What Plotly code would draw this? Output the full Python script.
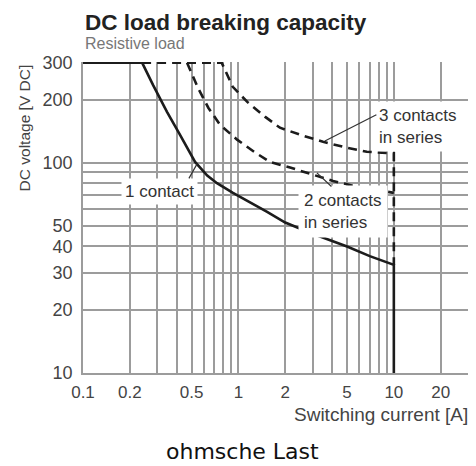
import math
import plotly.graph_objects as go

# --- data ---
I_one = [0.1, 0.24, 0.282, 0.347, 0.421, 0.526, 0.63, 0.728, 0.922, 1.24, 1.53, 2.0, 3.0, 5.0, 7.0, 10.0, 10.0]
V_one = [300, 300, 235, 175, 136, 101, 87, 80, 71.9, 64, 58.5, 52, 46, 40, 36, 32.7, 10]

I_two = [0.24, 0.467, 0.55, 0.64, 0.76, 0.98, 1.28, 1.6, 2.15, 3.0, 4.06, 5.8, 10.0]
V_two = [300, 300, 227, 183, 152, 129, 112, 101, 95, 88, 82, 77, 72]

I_three = [0.467, 0.78, 0.92, 1.14, 1.48, 1.85, 2.5, 3.5, 5.0, 6.7, 10.0, 10.0]
V_three = [300, 300, 230, 195, 166, 147, 136, 126, 118, 113, 111, 32.7]

x_ticks = [0.1, 0.2, 0.5, 1, 2, 5, 10, 20]
x_ticktext = ["0.1", "0.2", "0.5", "1", "2", "5", "10", "20"]
x_minor = [0.3, 0.4, 0.6, 0.7, 0.8, 0.9, 3, 4, 6, 7, 8, 9, 30]
y_ticks = [10, 20, 30, 40, 50, 100, 200, 300]
y_ticktext = ["10", "20", "30", "40", "50", "100", "200", "300"]
y_minor = [60, 70, 80, 90]

# label anchor points on the curves (current A, voltage V)
lbl_one = (0.542, 98.9)
lbl_two = (3.2, 89.6)
lbl_three = (3.6, 127)

SANS = "Liberation Sans, Arial, sans-serif"
GRID = "#9c9c9c"
INK = "#1c1c1c"

fig = go.Figure()
fig.add_trace(go.Scatter(x=I_one, y=V_one, mode="lines",
                         line=dict(color=INK, width=2.6), hoverinfo="skip"))
fig.add_trace(go.Scatter(x=I_two, y=V_two, mode="lines",
                         line=dict(color=INK, width=2.6, dash="9px,6px"), hoverinfo="skip"))
fig.add_trace(go.Scatter(x=I_three, y=V_three, mode="lines",
                         line=dict(color=INK, width=2.6, dash="9px,6px"), hoverinfo="skip"))

lab_font = dict(family=SANS, size=17, color="#333333")
L = lambda p: (math.log10(p[0]), math.log10(p[1]))

# text boxes (white background hides the grid behind them)
for pt, txt, xs, ys, pad in [(lbl_one, "1 contact", -38, -28, 3),
                              (lbl_two, "2 contacts<br>in series", 26, -39, 5),
                              (lbl_three, "3 contacts<br>in series", 93, 15, 4)]:
    x, y = L(pt)
    fig.add_annotation(x=x, y=y, xref="x", yref="y", text=txt, showarrow=False,
                       xshift=xs, yshift=ys, font=lab_font, align="left",
                       bgcolor="white", borderpad=pad)
# leader lines
for pt, ax, ay in [(lbl_one, -9, 16), (lbl_two, 16, 15), (lbl_three, 53, -27)]:
    x, y = L(pt)
    fig.add_annotation(x=x, y=y, xref="x", yref="y", text="", showarrow=True,
                       arrowhead=0, arrowwidth=1.2, arrowcolor="#333", ax=ax, ay=ay,
                       standoff=0, startstandoff=0)

# titles
fig.add_annotation(x=0, y=1.1286, xref="paper", yref="paper", xanchor="left", yanchor="middle",
                   text="<b>DC load breaking capacity</b>", showarrow=False,
                   font=dict(family=SANS, size=22.5, color="#222222"))
fig.add_annotation(x=0, y=1.061, xref="paper", yref="paper", xanchor="left", yanchor="middle",
                   text="Resistive load", showarrow=False,
                   font=dict(family=SANS, size=16, color="#777777"))
fig.add_annotation(x=-0.152, y=0.788, xref="paper", yref="paper", xanchor="center", yanchor="middle",
                   text="DC voltage [V DC]", showarrow=False, textangle=-90,
                   font=dict(family=SANS, size=15.5, color="#444444"))
fig.add_annotation(x=1.005, y=-0.135, xref="paper", yref="paper", xanchor="right", yanchor="middle",
                   text="Switching current [A]", showarrow=False,
                   font=dict(family=SANS, size=19, color="#444444"))
fig.add_annotation(x=0.413, y=-0.254, xref="paper", yref="paper", xanchor="center", yanchor="middle",
                   text="ohmsche Last", showarrow=False,
                   font=dict(family="DejaVu Sans, sans-serif", size=22, color="#111111"))

# the page body adds an 8px offset, so the figure is 8px smaller and margins compensate
fig.update_layout(
    width=468, height=458,
    margin=dict(l=75, r=8, t=54, b=93, autoexpand=False),
    paper_bgcolor="white", plot_bgcolor="white",
    showlegend=False,
    xaxis=dict(type="log", range=[-1, math.log10(30)], automargin=False,
               tickvals=x_ticks, ticktext=x_ticktext, ticks="",
               showgrid=True, gridcolor=GRID, gridwidth=1.5,
               minor=dict(tickvals=x_minor, showgrid=True, gridcolor=GRID, gridwidth=1.5, ticks=""),
               showline=True, linecolor=GRID, linewidth=1.5, zeroline=False,
               tickfont=dict(family=SANS, size=17, color="#444444"),
               ticklabelstandoff=3, fixedrange=True),
    yaxis=dict(type="log", range=[1, math.log10(302)], automargin=False,
               tickvals=y_ticks, ticktext=y_ticktext, ticks="",
               showgrid=True, gridcolor=GRID, gridwidth=1.5,
               minor=dict(tickvals=y_minor, showgrid=True, gridcolor=GRID, gridwidth=1.5, ticks=""),
               showline=True, linecolor=GRID, linewidth=1.5, zeroline=False,
               tickfont=dict(family=SANS, size=18, color="#444444"),
               ticklabelstandoff=5, fixedrange=True),
)

fig.write_html("out.html", config={"displayModeBar": False})
